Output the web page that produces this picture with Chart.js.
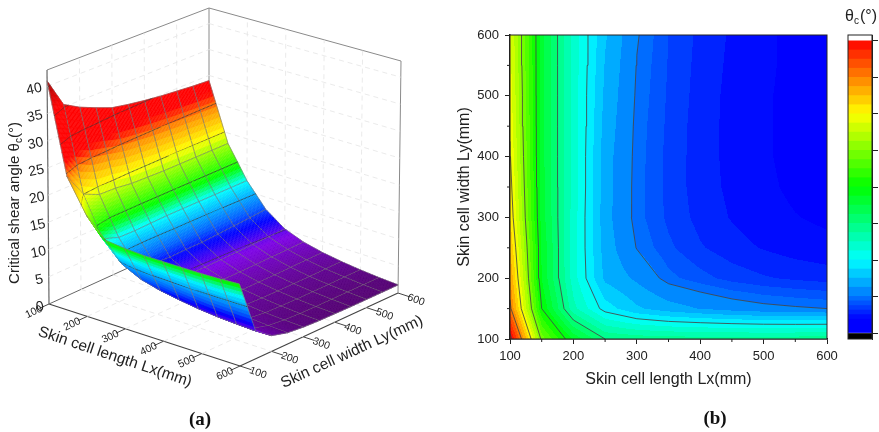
<!DOCTYPE html>
<html>
<head>
<meta charset="utf-8">
<title>Critical shear angle</title>
<script src="https://cdn.jsdelivr.net/npm/chart.js@4/dist/chart.umd.js"></script>
<style>
  html, body { margin: 0; background: #fff; }
  #wrap { position: relative; width: 879px; height: 432px; overflow: hidden; filter: blur(0.35px); }
  canvas { position: absolute; }
  .tag { position: absolute; font: bold 19px "Liberation Serif", serif; color: #111; transform: translate(-50%, -50%); }
</style>
</head>
<body>
<div id="wrap">
  <canvas id="surface" style="left:0;top:0"></canvas>
  <canvas id="contour" style="left:440px;top:0"></canvas>
  <canvas id="scalebar" style="left:840px;top:0"></canvas>
  <div class="tag" style="left:200px;top:419px">(a)</div>
  <div class="tag" style="left:715px;top:418px">(b)</div>
</div>
<script>
const lengths = [100, 150, 200, 250, 300, 350, 400, 450, 500, 550, 600];
const widths = [100, 150, 200, 250, 300, 350, 400, 450, 500, 550, 600];
// critical shear angle, one row per width, one column per length
const theta = [
  [41.0, 24.5, 18.5, 15.0, 14.6, 14.4, 14.4, 14.4, 14.4, 14.5, 14.7],
  [35.5, 20.0, 12.9, 9.4, 7.7, 6.8, 6.2, 5.7, 5.35, 5.15, 5.0],
  [33.8, 18.7, 11.85, 7.2, 6.0, 4.6, 4.0, 3.5, 3.2, 3.0, 2.85],
  [32.5, 18.6, 11.8, 6.9, 4.95, 3.9, 3.2, 2.75, 2.45, 2.2, 2.05],
  [31.3, 18.2, 11.9, 6.7, 4.65, 3.6, 2.9, 2.45, 2.1, 1.9, 1.75],
  [30.7, 18.1, 12.0, 6.8, 4.65, 3.55, 2.8, 2.35, 2.0, 1.75, 1.6],
  [30.2, 18.0, 12.0, 6.8, 4.7, 3.55, 2.8, 2.3, 1.95, 1.7, 1.55],
  [29.8, 18.0, 12.0, 7.0, 4.75, 3.6, 2.8, 2.3, 1.95, 1.7, 1.5],
  [29.5, 18.0, 12.0, 7.2, 4.85, 3.65, 2.85, 2.3, 1.95, 1.7, 1.5],
  [29.2, 18.0, 12.0, 7.4, 4.95, 3.7, 2.9, 2.35, 2.0, 1.7, 1.5],
  [29.0, 18.0, 12.0, 7.65, 5.1, 3.75, 2.95, 2.4, 2.0, 1.7, 1.5]
];
const lengthTicks = [100, 200, 300, 400, 500, 600];
const widthTicks = [100, 200, 300, 400, 500, 600];
const angleTicks = [0, 5, 10, 15, 20, 25, 30, 35, 40];
const contourLevels = [5, 10, 15, 20, 25, 30, 35, 40];

const FONT = '"Liberation Sans", Arial, sans-serif';
const INK = '#222';

// colour stops, value then rgb
const surfaceStops = [
  [0, 70, 0, 100], [1.5, 85, 0, 115], [3, 105, 0, 170], [4.5, 125, 0, 230], [6.5, 0, 0, 255],
  [8, 0, 90, 255], [12, 0, 255, 255], [14.2, 0, 255, 0], [20, 255, 255, 0], [24, 255, 150, 0],
  [27, 255, 0, 0], [36, 255, 0, 0], [41, 160, 0, 0]
];
const mapStops = [
  [0, 0, 0, 255], [1.9, 0, 0, 255], [5, 0, 120, 255], [10, 0, 255, 255], [15, 0, 255, 128],
  [20, 0, 255, 0], [25, 128, 255, 0], [30, 255, 255, 0], [35, 255, 128, 0], [40, 255, 0, 0]
];

function pickColor(stops, v) {
  if (v <= stops[0][0]) return stops[0].slice(1);
  for (let i = 1; i < stops.length; i++) {
    if (v <= stops[i][0]) {
      const a = stops[i - 1], b = stops[i], f = (v - a[0]) / (b[0] - a[0]);
      return [a[1] + (b[1] - a[1]) * f, a[2] + (b[2] - a[2]) * f, a[3] + (b[3] - a[3]) * f];
    }
  }
  return stops[stops.length - 1].slice(1);
}

// bands are finer below 5, same as the scale bar
function bandMid(v) {
  if (v < 5) return (Math.floor(v / 0.625) + 0.5) * 0.625;
  return (Math.floor(v / 1.25) + 0.5) * 1.25;
}

function thetaAt(lx, ly) {
  const fx = Math.min(9.9999, Math.max(0, (lx - 100) / 50));
  const fy = Math.min(9.9999, Math.max(0, (ly - 100) / 50));
  const i = Math.floor(fx), j = Math.floor(fy), a = fx - i, b = fy - j;
  return theta[j][i] * (1 - a) * (1 - b) + theta[j][i + 1] * a * (1 - b) +
         theta[j + 1][i] * (1 - a) * b + theta[j + 1][i + 1] * a * b;
}

// ---------- (a) surface ----------
const Z_TOP = 43;
// where the box corners sit: [length end, width end, top]
const boxCorners = {
  '000': [49, 304], '100': [240, 366], '010': [209, 231], '110': [398, 293],
  '001': [47, 70], '101': [238, 126], '011': [209, 8], '111': [401, 61]
};

function project(lx, ly, z) {
  const u = (lx - 100) / 500, v = (ly - 100) / 500, w = z / Z_TOP;
  let x = 0, y = 0;
  for (const key in boxCorners) {
    const k = (key[0] === '1' ? u : 1 - u) * (key[1] === '1' ? v : 1 - v) * (key[2] === '1' ? w : 1 - w);
    x += boxCorners[key][0] * k;
    y += boxCorners[key][1] * k;
  }
  return { x, y };
}

function boxLine(a, b, color, width, dash) {
  return {
    data: [project(a[0], a[1], a[2]), project(b[0], b[1], b[2])],
    showLine: true, pointRadius: 0, borderColor: color, borderWidth: width, borderDash: dash || []
  };
}

const boxSets = [];
const wallGrid = '#e4e4e4';
const wallDash = [5, 4];
lengthTicks.slice(1, -1).forEach(function(v) {
  boxSets.push(boxLine([v, 100, 0], [v, 600, 0], wallGrid, 0.8, wallDash));
  boxSets.push(boxLine([v, 600, 0], [v, 600, Z_TOP], wallGrid, 0.8, wallDash));
});
widthTicks.slice(1, -1).forEach(function(v) {
  boxSets.push(boxLine([100, v, 0], [600, v, 0], wallGrid, 0.8, wallDash));
  boxSets.push(boxLine([100, v, 0], [100, v, Z_TOP], wallGrid, 0.8, wallDash));
});
angleTicks.slice(1).forEach(function(v) {
  boxSets.push(boxLine([100, 100, v], [100, 600, v], wallGrid, 0.8, wallDash));
  boxSets.push(boxLine([100, 600, v], [600, 600, v], wallGrid, 0.8, wallDash));
});
boxSets.push(boxLine([100, 100, Z_TOP], [100, 600, Z_TOP], '#8a8a8a', 1));
boxSets.push(boxLine([100, 600, Z_TOP], [600, 600, Z_TOP], '#8a8a8a', 1));
boxSets.push(boxLine([100, 600, 0], [100, 600, Z_TOP], '#8a8a8a', 1));
boxSets.push(boxLine([600, 600, 0], [600, 600, Z_TOP], '#8a8a8a', 1));
boxSets.push(boxLine([100, 100, 0], [100, 100, Z_TOP], '#666', 1.2));
boxSets.push(boxLine([100, 100, 0], [100, 600, 0], '#666', 1));
boxSets.push(boxLine([600, 100, 0], [600, 600, 0], '#444', 1.2));
boxSets.push(boxLine([100, 100, 0], [600, 100, 0], '#444', 1.2));
lengthTicks.forEach(function(v) { boxSets.push(boxLine([v, 100, 0], [v, 70, 0], '#444', 1)); });
widthTicks.forEach(function(v) { boxSets.push(boxLine([600, v, 0], [630, v, 0], '#444', 1)); });

function rotatedText(ctx, text, x, y, deg, font) {
  ctx.save();
  ctx.translate(x, y);
  ctx.rotate(deg * Math.PI / 180);
  ctx.font = font;
  ctx.fillStyle = INK;
  ctx.textAlign = 'center';
  ctx.textBaseline = 'middle';
  ctx.fillText(text, 0, 0);
  ctx.restore();
}

const surfacePlugin = {
  id: 'surfacePlugin',
  afterDatasetsDraw(chart) {
    const ctx = chart.ctx, sx = chart.scales.x, sy = chart.scales.y;
    const toPx = function(lx, ly, z) {
      const p = project(lx, ly, z);
      return [sx.getPixelForValue(p.x), sy.getPixelForValue(p.y)];
    };
    const SUB = 12, step = 50 / SUB;
    ctx.save();
    ctx.lineJoin = 'round';
    // far corner first so the near part of the sheet covers it
    for (let i = 0; i < (lengths.length - 1) * SUB; i++) {
      for (let j = (widths.length - 1) * SUB - 1; j >= 0; j--) {
        const x0 = 100 + i * step, x1 = x0 + step, y0 = 100 + j * step, y1 = y0 + step;
        const q = [[x0, y0], [x1, y0], [x1, y1], [x0, y1]];
        const zs = q.map(function(c) { return thetaAt(c[0], c[1]); });
        const pts = q.map(function(c, n) { return toPx(c[0], c[1], zs[n]); });
        const rgb = pickColor(surfaceStops, (zs[0] + zs[1] + zs[2] + zs[3]) / 4);
        const col = 'rgb(' + rgb.map(Math.round).join(',') + ')';
        ctx.beginPath();
        pts.forEach(function(p, n) { n ? ctx.lineTo(p[0], p[1]) : ctx.moveTo(p[0], p[1]); });
        ctx.closePath();
        ctx.fillStyle = col;
        ctx.strokeStyle = col;
        ctx.lineWidth = 0.5;
        ctx.fill();
        ctx.stroke();

        ctx.strokeStyle = 'rgba(125,125,125,0.85)';
        ctx.lineWidth = 0.8;
        if (i % SUB === 0) { ctx.beginPath(); ctx.moveTo(pts[0][0], pts[0][1]); ctx.lineTo(pts[3][0], pts[3][1]); ctx.stroke(); }
        if ((i + 1) % SUB === 0) { ctx.beginPath(); ctx.moveTo(pts[1][0], pts[1][1]); ctx.lineTo(pts[2][0], pts[2][1]); ctx.stroke(); }
        if (j % SUB === 0) { ctx.beginPath(); ctx.moveTo(pts[0][0], pts[0][1]); ctx.lineTo(pts[1][0], pts[1][1]); ctx.stroke(); }
        if ((j + 1) % SUB === 0) { ctx.beginPath(); ctx.moveTo(pts[3][0], pts[3][1]); ctx.lineTo(pts[2][0], pts[2][1]); ctx.stroke(); }

        ctx.strokeStyle = 'rgba(60,60,60,0.85)';
        ctx.lineWidth = 1;
        contourLevels.forEach(function(lv) {
          const hits = [];
          for (let e = 0; e < 4; e++) {
            const a = zs[e], b = zs[(e + 1) % 4];
            if ((a < lv) !== (b < lv)) {
              const f = (lv - a) / (b - a), m = q[e], n = q[(e + 1) % 4];
              hits.push(toPx(m[0] + (n[0] - m[0]) * f, m[1] + (n[1] - m[1]) * f, lv));
            }
          }
          if (hits.length >= 2) {
            ctx.beginPath();
            ctx.moveTo(hits[0][0], hits[0][1]);
            ctx.lineTo(hits[1][0], hits[1][1]);
            ctx.stroke();
          }
        });
      }
    }
    ctx.restore();

    // axis text
    const tickFont = '10.5px ' + FONT;
    lengthTicks.forEach(function(v) {
      const p = toPx(v, 100, 0);
      rotatedText(ctx, String(v), p[0] - 15, p[1] + 8, -25, tickFont);
    });
    widthTicks.forEach(function(v) {
      const p = toPx(600, v, 0);
      rotatedText(ctx, String(v), p[0] + 18, p[1] + 7, 20, tickFont);
    });
    angleTicks.forEach(function(v) {
      const p = toPx(100, 100, v);
      rotatedText(ctx, String(v), p[0] - 9 - v * 0.1, p[1] + 3, -12, '14px ' + FONT);
    });
    rotatedText(ctx, 'Skin cell length Lx(mm)', 115, 357, 18.5, '15.5px ' + FONT);
    rotatedText(ctx, 'Skin cell width Ly(mm)', 352, 352, -24.5, '15.5px ' + FONT);

    ctx.save();
    ctx.translate(15, 203);
    ctx.rotate(-Math.PI / 2);
    ctx.fillStyle = INK;
    ctx.textBaseline = 'middle';
    ctx.font = '15px ' + FONT;
    const head = 'Critical shear angle θ', tail = '(°)';
    const w1 = ctx.measureText(head).width, w3 = ctx.measureText(tail).width;
    ctx.font = '10px ' + FONT;
    const w2 = ctx.measureText('c').width;
    let tx = -(w1 + w2 + w3) / 2;
    ctx.textAlign = 'left';
    ctx.font = '15px ' + FONT;
    ctx.fillText(head, tx, 0);
    tx += w1;
    ctx.font = '10px ' + FONT;
    ctx.fillText('c', tx, 4);
    tx += w2;
    ctx.font = '15px ' + FONT;
    ctx.fillText(tail, tx, 0);
    ctx.restore();
  }
};

const surfaceCanvas = document.getElementById('surface');
surfaceCanvas.width = 440;
surfaceCanvas.height = 432;
new Chart(surfaceCanvas, {
  type: 'scatter',
  data: { datasets: boxSets },
  options: {
    responsive: false,
    animation: false,
    layout: { padding: 0 },
    plugins: { legend: { display: false }, tooltip: { enabled: false } },
    scales: {
      x: { type: 'linear', display: false, min: 0, max: 440 },
      y: { type: 'linear', display: false, min: 0, max: 432, reverse: true }
    }
  },
  plugins: [surfacePlugin]
});

// ---------- (b) contour map ----------
function contourPoints(level) {
  const out = [];
  for (let j = 0; j < widths.length - 1; j++) {
    for (let i = 0; i < lengths.length - 1; i++) {
      const q = [[lengths[i], widths[j]], [lengths[i + 1], widths[j]], [lengths[i + 1], widths[j + 1]], [lengths[i], widths[j + 1]]];
      const zs = [theta[j][i], theta[j][i + 1], theta[j + 1][i + 1], theta[j + 1][i]];
      const hits = [];
      for (let e = 0; e < 4; e++) {
        const a = zs[e], b = zs[(e + 1) % 4];
        if ((a < level) !== (b < level)) {
          const f = (level - a) / (b - a), m = q[e], n = q[(e + 1) % 4];
          hits.push({ x: m[0] + (n[0] - m[0]) * f, y: m[1] + (n[1] - m[1]) * f });
        }
      }
      if (hits.length >= 2) out.push(hits[0], hits[1], { x: NaN, y: NaN });
    }
  }
  return out;
}

const mapFillPlugin = {
  id: 'mapFillPlugin',
  beforeDatasetsDraw(chart) {
    const a = chart.chartArea, sx = chart.scales.x, sy = chart.scales.y;
    const w = Math.round(a.right - a.left), h = Math.round(a.bottom - a.top);
    const off = document.createElement('canvas');
    off.width = w;
    off.height = h;
    const octx = off.getContext('2d');
    const img = octx.createImageData(w, h);
    for (let py = 0; py < h; py++) {
      const ly = sy.getValueForPixel(a.top + py + 0.5);
      for (let px = 0; px < w; px++) {
        const lx = sx.getValueForPixel(a.left + px + 0.5);
        const rgb = pickColor(mapStops, bandMid(thetaAt(lx, ly)));
        const k = (py * w + px) * 4;
        img.data[k] = rgb[0];
        img.data[k + 1] = rgb[1];
        img.data[k + 2] = rgb[2];
        img.data[k + 3] = 255;
      }
    }
    octx.putImageData(img, 0, 0);
    chart.ctx.drawImage(off, a.left, a.top);
  },
  afterDatasetsDraw(chart) {
    const ctx = chart.ctx, a = chart.chartArea, sx = chart.scales.x, sy = chart.scales.y;
    ctx.save();
    ctx.strokeStyle = '#222';
    ctx.lineWidth = 1;
    ctx.strokeRect(a.left, a.top, a.right - a.left, a.bottom - a.top);
    // minor ticks halfway between the labelled ones
    ctx.beginPath();
    [150, 250, 350, 450, 550].forEach(function(v) {
      ctx.moveTo(sx.getPixelForValue(v), a.bottom);
      ctx.lineTo(sx.getPixelForValue(v), a.bottom + 3);
      ctx.moveTo(a.left, sy.getPixelForValue(v));
      ctx.lineTo(a.left - 3, sy.getPixelForValue(v));
    });
    ctx.stroke();
    ctx.restore();
  }
};

const contourCanvas = document.getElementById('contour');
contourCanvas.width = 439;
contourCanvas.height = 432;
const axisTicks = function(values) {
  return function(scale) { scale.ticks = values.map(function(v) { return { value: v }; }); };
};
new Chart(contourCanvas, {
  type: 'scatter',
  data: {
    datasets: contourLevels.map(function(lv) {
      return { data: contourPoints(lv), showLine: true, pointRadius: 0, borderColor: 'rgba(70,70,70,0.85)', borderWidth: 1, spanGaps: false };
    })
  },
  options: {
    responsive: false,
    animation: false,
    layout: { padding: { left: 15, right: 52, top: 35, bottom: 43 } },
    plugins: { legend: { display: false }, tooltip: { enabled: false } },
    scales: {
      x: {
        type: 'linear', min: 100, max: 600,
        afterBuildTicks: axisTicks(lengthTicks),
        afterFit: function(scale) { scale.height = 50; },
        grid: { drawOnChartArea: false, tickLength: 5, color: '#222' },
        border: { color: '#222', width: 1.5 },
        ticks: { color: INK, font: { family: FONT, size: 13 }, padding: 5, maxRotation: 0 },
        title: { display: true, text: 'Skin cell length Lx(mm)', color: INK, font: { family: FONT, size: 16 }, padding: { top: 4, bottom: 0 } }
      },
      y: {
        type: 'linear', min: 100, max: 600,
        afterBuildTicks: axisTicks(widthTicks),
        afterFit: function(scale) { scale.width = 55; },
        grid: { drawOnChartArea: false, tickLength: 5, color: '#222' },
        border: { color: '#222', width: 1.5 },
        ticks: { color: INK, font: { family: FONT, size: 13 }, padding: 6 },
        title: { display: true, text: 'Skin cell width Ly(mm)', color: INK, font: { family: FONT, size: 16 }, padding: { top: 0, bottom: 2 } }
      }
    }
  },
  plugins: [mapFillPlugin]
});

// ---------- colour scale ----------
const bandEdges = [];
for (let v = 0; v < 5; v += 0.625) bandEdges.push(v);
for (let v = 5; v <= 40; v += 1.25) bandEdges.push(v);

const barSets = [];
barSets.push({ data: [[-0.82, 0]], backgroundColor: '#000' });
for (let n = 0; n < bandEdges.length - 1; n++) {
  const rgb = pickColor(mapStops, (bandEdges[n] + bandEdges[n + 1]) / 2);
  barSets.push({ data: [[bandEdges[n], bandEdges[n + 1] + 0.02]], backgroundColor: 'rgb(' + rgb.map(Math.round).join(',') + ')' });
}

const barFramePlugin = {
  id: 'barFramePlugin',
  afterDraw(chart) {
    const ctx = chart.ctx, a = chart.chartArea;
    ctx.save();
    ctx.strokeStyle = '#222';
    ctx.lineWidth = 1;
    ctx.strokeRect(a.left, a.top, a.right - a.left, a.bottom - a.top);
    ctx.fillStyle = INK;
    ctx.textBaseline = 'middle';
    ctx.textAlign = 'left';
    ctx.font = '16px ' + FONT;
    ctx.fillText('θ', 5, 17);
    ctx.font = '10px ' + FONT;
    ctx.fillText('c', 14, 21);
    ctx.font = '16px ' + FONT;
    ctx.fillText('(°)', 20, 17);
    ctx.restore();
  }
};

const barCanvas = document.getElementById('scalebar');
barCanvas.width = 39;
barCanvas.height = 345;
new Chart(barCanvas, {
  type: 'bar',
  data: { labels: [''], datasets: barSets },
  options: {
    responsive: false,
    animation: false,
    layout: { padding: { left: 8, right: 0, top: 35, bottom: 6 } },
    plugins: { legend: { display: false }, tooltip: { enabled: false } },
    datasets: { bar: { barPercentage: 1, categoryPercentage: 1, borderWidth: 0 } },
    scales: {
      x: { display: false, stacked: true },
      y: {
        position: 'right', min: -0.82, max: 40.82,
        afterBuildTicks: axisTicks(angleTicks),
        afterFit: function(scale) { scale.width = 7; },
        grid: { drawOnChartArea: false, tickLength: 6, color: '#222' },
        border: { color: '#222' },
        ticks: { display: false }
      }
    }
  },
  plugins: [barFramePlugin]
});
</script>
</body>
</html>
